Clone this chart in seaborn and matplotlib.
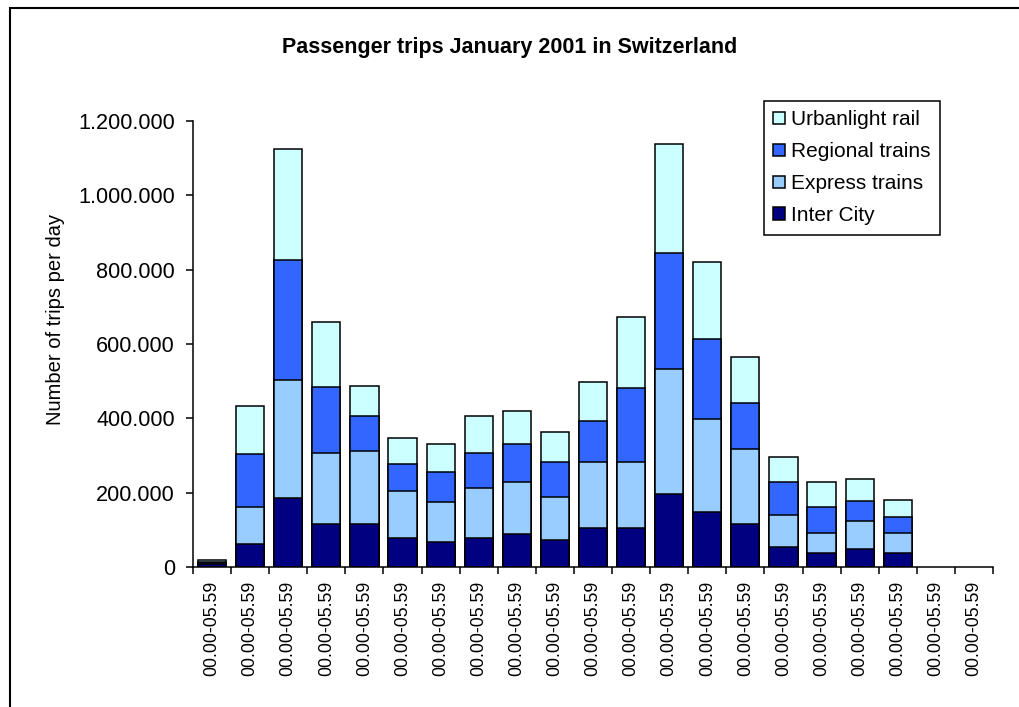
import matplotlib
matplotlib.use("Agg")
import matplotlib.pyplot as plt
import matplotlib.patches as mpatches
import matplotlib.ticker as mticker
import seaborn as sns
import pandas as pd
import numpy as np

# ---- data ----
categories = ["00.00-05.59"] * 21
inter_city = [8000, 61000, 185000, 115000, 115000, 77000, 66000, 77000, 88000, 72000,
              104000, 104000, 196000, 147000, 115000, 55000, 38000, 49000, 38000, 0, 0]
express = [3000, 101000, 318000, 193000, 198000, 128000, 108000, 135000, 140000, 117000,
           178000, 178000, 338000, 252000, 202000, 85000, 53000, 76000, 54000, 0, 0]
regional = [2000, 142000, 323000, 177000, 93000, 71000, 81000, 96000, 102000, 93000,
            112000, 199000, 312000, 214000, 125000, 88000, 70000, 53000, 43000, 0, 0]
urban = [7000, 129000, 300000, 173000, 81000, 70000, 76000, 98000, 91000, 80000,
         103000, 192000, 291000, 207000, 124000, 69000, 67000, 60000, 45000, 0, 0]
series_names = ["Inter City", "Express trains", "Regional trains", "Urbanlight rail"]
series_colors = ["#000080", "#99CCFF", "#3366FF", "#CCFFFF"]
yticks = [0, 200000, 400000, 600000, 800000, 1000000, 1200000]

sns.set_theme(style="white")
plt.rcParams['font.family'] = ['Liberation Sans', 'DejaVu Sans']
plt.rcParams['text.color'] = 'black'
plt.rcParams['axes.labelcolor'] = 'black'
plt.rcParams['xtick.color'] = 'black'
plt.rcParams['ytick.color'] = 'black'

df = pd.DataFrame({
    "pos": list(range(len(categories))),
    "ic": inter_city, "ex": express, "re": regional, "ur": urban,
})
df["c1"] = df["ic"]
df["c2"] = df["c1"] + df["ex"]
df["c3"] = df["c2"] + df["re"]
df["c4"] = df["c3"] + df["ur"]

fig = plt.figure(figsize=(10.2, 7.07), dpi=100)
ax = fig.add_axes([193/1020, 1-567/707, (993-193)/1020, (567-121)/707])

cum_cols = ["c4", "c3", "c2", "c1"]
cols_rev = series_colors[::-1]
for col, color in zip(cum_cols, cols_rev):
    sns.barplot(data=df, x="pos", y=col, color=color, width=0.74,
                edgecolor="black", linewidth=1.1, saturation=1, ax=ax, zorder=2)
for p in ax.patches:
    if p.get_height() == 0:
        p.set_linewidth(0)

ax.set_xlim(-0.5, len(categories) - 0.5)
ax.set_ylim(0, 1200000)
ax.set_yticks(yticks)
ax.yaxis.set_major_formatter(mticker.FuncFormatter(lambda v, p: f"{int(v):,}".replace(",", ".")))
ax.set_xticks(range(len(categories)))
ax.set_xticklabels(categories, rotation=90, fontsize=12.8)
ax.set_xticks(np.arange(-0.5, len(categories), 1.0), minor=True)
ax.tick_params(axis="x", which="major", length=0, pad=10, colors="black")
ax.tick_params(axis="x", which="minor", length=5, width=1.1, direction="out", color="black", bottom=True)
ax.tick_params(axis="y", which="major", length=5, width=1.1, direction="out", labelsize=15.6, pad=8,
               colors="black", left=True)
ax.set_xlabel("")
ax.set_ylabel("Number of trips per day", fontsize=14.5)
ax.yaxis.set_label_coords(-0.16, 0.554)
for s in ["top", "right"]:
    ax.spines[s].set_visible(False)
for s in ["left", "bottom"]:
    ax.spines[s].set_color("black")
    ax.spines[s].set_linewidth(1.1)
ax.grid(False)

fig.text(510/1020, 1-47/707, "Passenger trips January 2001 in Switzerland",
         ha="center", va="center", fontsize=15.5, fontweight="bold", color="black")

handles = [mpatches.Patch(facecolor=c, edgecolor="black", linewidth=1.1, label=n)
           for n, c in zip(series_names, series_colors)][::-1]
leg = fig.legend(handles=handles, loc="upper left", bbox_to_anchor=(764/1020, 1-101/707),
                 fontsize=15, frameon=True, fancybox=False, framealpha=1, edgecolor="black",
                 handlelength=0.55, handleheight=0.55, handletextpad=0.3, labelspacing=0.62,
                 borderpad=0.45, borderaxespad=0)
leg.get_frame().set_linewidth(1.1)

frame = mpatches.Rectangle((10/1020, -0.05), 1.1, 1.05 - 8/707, transform=fig.transFigure,
                           fill=False, edgecolor="black", linewidth=1.5)
fig.add_artist(frame)

fig.savefig("out.png", dpi=100)
